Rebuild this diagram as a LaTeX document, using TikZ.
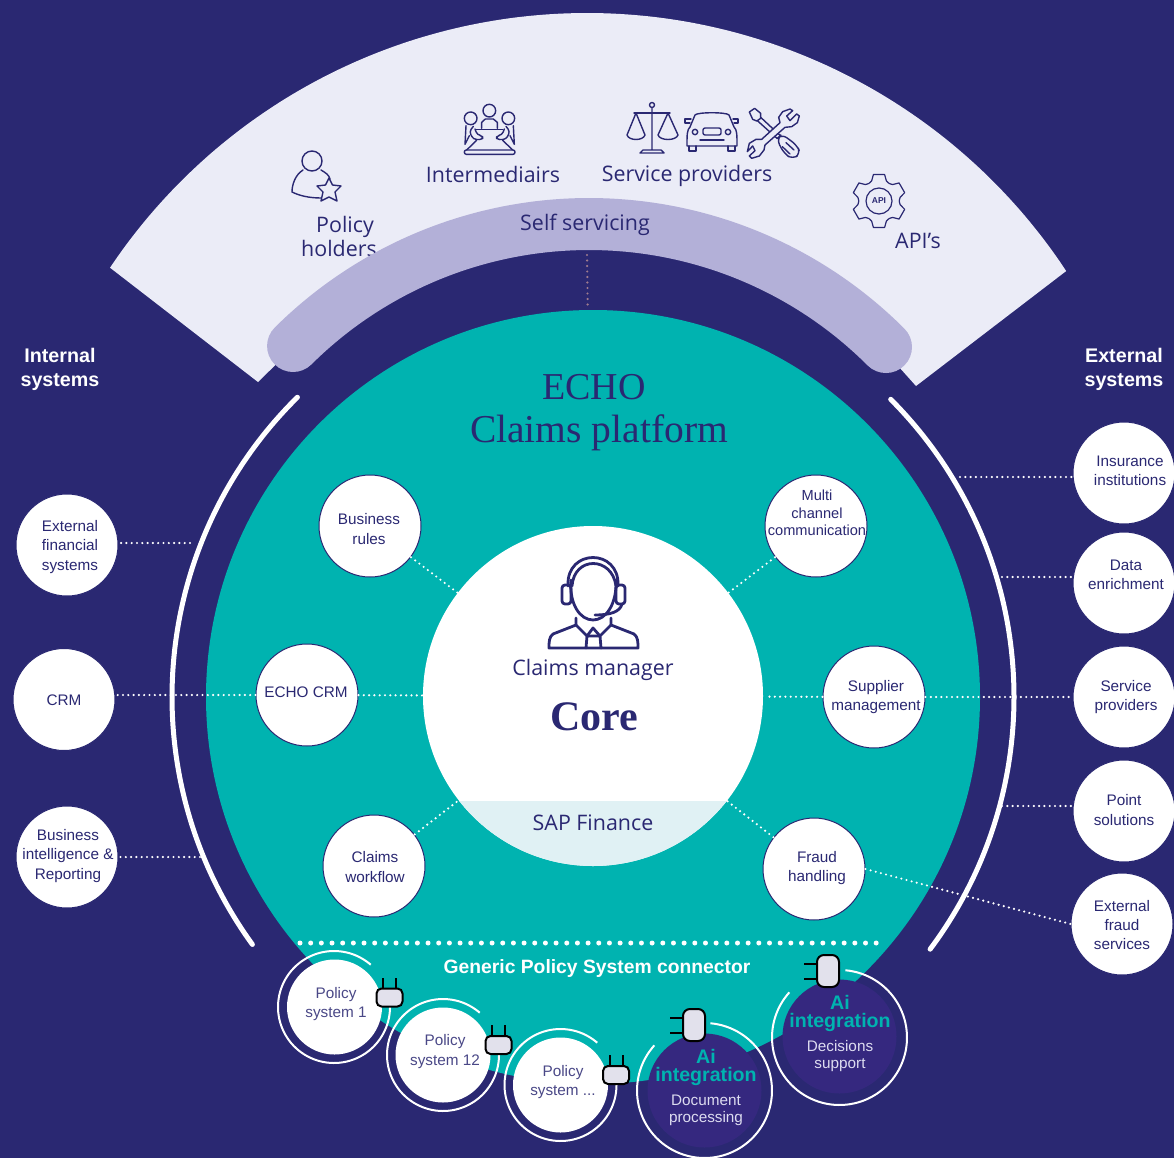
\documentclass[tikz,border=0pt]{standalone}
\usepackage{fontspec}
\setmainfont{Liberation Sans}
\newfontfamily\opsans{Open Sans}
\newfontfamily\srf{Liberation Serif}
\definecolor{navy}{HTML}{2A2872}
\definecolor{teal2}{HTML}{00B3B0}
\definecolor{fan}{HTML}{EBECF7}
\definecolor{bandc}{HTML}{B3B0D8}
\definecolor{sapc}{HTML}{E0F1F4}
\definecolor{aifill}{HTML}{35287F}
\definecolor{plugc}{HTML}{E2E1EC}
\definecolor{aitext}{HTML}{DDDCF0}
\definecolor{pinkdot}{HTML}{A07C8E}
\newcommand\arcat[5]{plot[domain=#4:#5,samples=90,smooth] ({#1+#2*cos(\x)},{#3+#2*sin(\x)})}
\tikzset{
  x=1pt,y=-1pt,
  bub/.style={circle,draw=navy,line width=1pt,fill=white,minimum size=102pt,inner sep=0pt},
  btext/.style={inner sep=0pt,align=center,text=navy,font=\fontsize{15.3}{19.4}\selectfont},
  polsys/.style={circle,fill=white,minimum size=95pt,inner sep=0pt},
  ptext/.style={inner sep=0pt,align=center,text=navy!85!white,font=\fontsize{15.3}{19.5}\selectfont},
  ainode/.style={circle,fill=aifill,minimum size=114pt,inner sep=0pt},
  dots/.style={white,line width=2.4pt,line cap=round,dash pattern=on 0pt off 5.3pt},
  ring/.style={white,line width=2pt},
  bigarc/.style={white,line width=5pt,line cap=round},
  plugbody/.style={draw=black,line width=2pt,fill=plugc,rounded corners=5pt,inner sep=0pt},
  hplug/.style={plugbody,minimum width=26pt,minimum height=18pt},
  vplug/.style={plugbody,rounded corners=7pt,minimum width=22pt,minimum height=32pt},
  prong/.style={black,line width=2pt},
  big/.style={text=navy,font=\opsans\fontsize{21.4}{24}\selectfont,inner sep=0pt,anchor=base},
  title/.style={text=navy,font=\srf\fontsize{38}{42}\selectfont,inner sep=0pt},
  side/.style={text=white,font=\bfseries\fontsize{19.7}{24}\selectfont,align=center,inner sep=0pt},
  ico/.style={draw=navy,line width=1.4pt,line join=round,line cap=round},
  aititle/.style={text=teal2,font=\bfseries\fontsize{19.6}{22}\selectfont,inner sep=0pt,align=center},
  aisub/.style={text=aitext,font=\fontsize{15.3}{17}\selectfont,inner sep=0pt,align=center},
  zoomed/.style={x=0.3333pt,y=-0.3333pt},
}
\begin{document}
\begin{tikzpicture}
\useasboundingbox (0,0) rectangle (1174,1158);
\fill[navy] (0,0) rectangle (1174,1158);
% fan
\fill[fan] plot[domain=213.8:326.6,samples=90,smooth] ({587+574*cos(\x)},{587+574*sin(\x)})
  -- (916,386) -- plot[domain=310:230,samples=90,smooth] ({589+420*cos(\x)},{644+420*sin(\x)}) -- (258,382) -- cycle;
% fan labels
\node[big] (lintm) at (493,183) {Intermediairs};
\node[big] (lserv) at (687,182) {Service providers};
\node[big] (lpol) at (345,233) {Policy};
\node[big] (lhold) at (339,256) {holders};
\node[big] (lapi) at (918,248) {API’s};
% band
\draw[bandc,line width=52pt,line cap=round] \arcat{589}{420}{644}{225.2}{315};
\node[big] (lself) at (585,231) {Self servicing};
% icons: person with star
\draw[ico] (312,161) circle (10);
\draw[ico] (303,170) .. controls (295,175) and (292,185) .. (292,192) .. controls (300,196) and (310,198) .. (321,198);
\draw[ico] (321,170) .. controls (326,173) and (329,175) .. (330,179);
\draw[ico,fill=fan] (329,178) -- (332.5,185) -- (341,186) -- (335,192) -- (337,201) -- (329,197) -- (321,201) -- (323,192) -- (317,186) -- (325.5,185) -- cycle;
% icons: table people
\begin{scope}[shift={(440,95)},zoomed]
\draw[ico] (148,47) circle (19) (92,70) circle (19) (205,70) circle (19);
\draw[ico] (125,100) -- (125,82) -- (136,72) -- (160,72) -- (172,82) -- (172,100);
\draw[ico] (108,103) -- (188,103);
\draw[ico] (110,136) -- (80,165) (188,136) -- (218,165);
\draw[ico,rounded corners=2pt] (73,165) rectangle (225,178);
\draw[ico] (78,92) -- (75,148) -- (88,122);
\draw[ico] (220,92) -- (223,148) -- (210,122);
\draw[ico,rounded corners=3pt] (100,94) -- (88,110) -- (100,133) -- (128,134) -- (128,122) -- (112,120) -- (105,102);
\draw[ico,rounded corners=3pt] (198,94) -- (210,110) -- (198,133) -- (170,134) -- (170,122) -- (186,120) -- (193,102);
\end{scope}
% scales
\draw[ico] (652,105) circle (2.5) (652,108) -- (652,150) (640,153) -- (643,150) -- (661,150) -- (664,153) -- cycle;
\draw[ico] (634,113) -- (670,113);
\draw[ico] (636,113) -- (627,135) .. controls (629,141) and (643,141) .. (645,135) -- cycle;
\draw[ico] (668,113) -- (658,135) .. controls (660,141) and (676,141) .. (678,135) -- cycle;
% car
\draw[ico] (690,127) -- (695,115) .. controls (697,112) and (727,112) .. (729,115) -- (734,127) .. controls (737,130) and (737,134) .. (737,146) -- (687,146) .. controls (687,134) and (687,130) .. (690,127) -- cycle;
\draw[ico] (689,146) -- (689,151) -- (696,151) -- (696,146) (728,146) -- (728,151) -- (735,151) -- (735,146);
\draw[ico] (690,123) -- (685,123) -- (685,119) -- (691,119) (734,123) -- (738,123) -- (738,119) -- (733,119);
\draw[ico] (695,132) circle (2.7) (728,132) circle (2.7);
\draw[ico,rounded corners=2pt] (703,128) rectangle (721,135);
\draw[ico] (700,140) -- (724,140);
% tools
\begin{scope}[shift={(740,100)},zoomed]
\draw[ico,fill=fan] (62,52) -- (122,108) -- (112,116) -- (52,62) -- cycle;
\draw[ico,fill=fan] (28,36) -- (44,25) -- (62,40) -- (62,55) -- (50,63) -- (38,58) -- cycle;
\draw[ico,fill=fan] (120,68) -- (116,52) -- (128,35) -- (150,27) -- (158,32) -- (140,48) -- (150,62) -- (170,42) -- (178,48) -- (172,68) -- (155,80) -- (135,82)
  -- (75,135) -- (72,150) -- (58,168) -- (35,175) -- (28,168) -- (45,152) -- (38,138) -- (22,155) -- (28,130) -- (48,118) -- (65,118) -- cycle;
\draw[ico,fill=fan,rounded corners=6pt] (110,118) -- (125,102) -- (170,135) -- (182,160) -- (158,178) -- (132,160) -- cycle;
\draw[ico] (138,128) -- (162,150) (127,140) -- (150,162);
\end{scope}
% gear
\begin{scope}[shift={(879,201)}]
\draw[ico,line width=1.2pt] (18:27) \foreach \a in {30,90,150,210,270,330} {
   -- (\a-12:27) -- (\a+12:27) -- (\a+20:21.5) .. controls (\a+30:20) .. (\a+40:21.5) } -- cycle;
\draw[ico,line width=1.2pt] (0,0) circle (13);
\node[text=navy,inner sep=0pt,font=\bfseries\fontsize{8.5}{9}\selectfont] (lapiicon) at (0,0) {API};
\end{scope}
% dotted link between band and platform
\coordinate (bandlow) at (587,255);
% teal circle
\node[circle,fill=teal2,minimum size=774pt,inner sep=0pt] (plat) at (593,697) {};
\draw[pinkdot,line width=2.4pt,line cap=round,dash pattern=on 0pt off 5.5pt] (bandlow) -- (plat);
\node[title] (echo) at (594,387) {ECHO};
\node[title,font=\srf\fontsize{39.5}{42}\selectfont] (cplat) at (599,433) {Claims platform};
% big white arcs
\draw[bigarc] \arcat{593}{421}{697}{225.4}{144};
\draw[bigarc] \arcat{593}{421}{697}{-45}{36.8};
% core
\node[circle,fill=white,minimum size=340pt,inner sep=0pt] (core) at (593,696) {};
\begin{scope}
\clip (593,696) circle (170);
\fill[sapc] (400,801) rectangle (800,880);
\end{scope}
\node[big] (lsap) at (593,830) {SAP Finance};
\node[big] (lcm) at (593,675) {Claims manager};
\node[text=navy,inner sep=0pt,font=\srf\bfseries\fontsize{42}{44}\selectfont] (lcore) at (594,717) {Core};
% headset person
\begin{scope}[navy,line width=2.8pt,line join=round,line cap=round]
\draw (568,586) .. controls (566,548) and (620,548) .. (618,586);
\draw (572,586) .. controls (574,556) and (612,556) .. (616,586);
\draw (571,580) .. controls (569,604) and (580,620) .. (593,620) .. controls (606,620) and (617,604) .. (616,580);
\draw[rounded corners=3pt] (562,585) rectangle (571,604) (616,585) rectangle (625,604);
\draw (622,604) .. controls (620,612) and (610,615) .. (595,615);
\draw (576,618) -- (576,625) -- (553,634) .. controls (549,637) and (549,642) .. (549,648) -- (638,648) .. controls (638,642) and (638,637) .. (634,634) -- (611,625) -- (611,618);
\draw (576,625) -- (587,636) -- (593,628) -- (600,636) -- (611,625);
\draw (587,636) -- (586,648) (600,636) -- (601,648) (587,636) -- (600,636);
\end{scope}
% inner module nodes
\node[bub] (br) at (370,526) {};
\node[btext] (tbr) at (369,529) {Business\\rules};
\node[bub] (mcc) at (816,526) {};
\node[btext,font=\fontsize{14.6}{17.4}\selectfont] (tmcc) at (817,513) {Multi\\channel\\communication};
\node[bub] (ecrm) at (307,695) {};
\node[btext] (tecrm) at (306,692) {ECHO CRM};
\node[bub] (sup) at (874,697) {};
\node[btext] (tsup) at (876,697) {Supplier\\management};
\node[bub] (cw) at (374,866) {};
\node[btext] (tcw) at (375,867) {Claims\\workflow};
\node[bub] (fh) at (814,869) {};
\node[btext] (tfh) at (817,868) {Fraud\\handling};
% outer nodes
\node[bub] (ins) at (1124,473) {};
\node[btext] (tins) at (1130,471) {Insurance\\institutions};
\node[bub] (den) at (1124,583) {};
\node[btext] (tden) at (1126,575) {Data\\enrichment};
\node[bub] (svc) at (1124,697) {};
\node[btext] (tsvc) at (1126,697) {Service\\providers};
\node[bub] (pts) at (1124,811) {};
\node[btext] (tpts) at (1124,810) {Point\\solutions};
\node[bub] (efs) at (1122,924) {};
\node[btext] (tefs) at (1122,925) {External\\fraud\\services};
\node[bub] (efi) at (67,545) {};
\node[btext] (tefi) at (70,547) {External\\financial\\systems};
\node[bub] (crm) at (64,699.5) {};
\node[btext] (tcrm) at (64,700) {CRM};
\node[bub] (bi) at (67,857) {};
\node[btext] (tbi) at (68,856) {Business\\intelligence \&\\Reporting};
% free ends
\coordinate (cins) at (960,477);
\coordinate (cden) at (1002,577);
\coordinate (cpts) at (1002,806);
\coordinate (cefi) at (190,543);
\coordinate (cbi) at (200,857);
% dotted connectors
\draw[dots] (br) -- (core);
\draw[dots] (mcc) -- (core);
\draw[dots] (ecrm) -- (core);
\draw[dots,shorten >=4pt] (sup) -- (core);
\draw[dots] (cw) -- (core);
\draw[dots] (fh) -- (core);
\draw[dots] (sup) -- (svc);
\draw[dots] (ecrm) -- (ecrm -| crm.east);
\draw[dots] (fh.east) -- (efs.west);
\draw[dots] (cins) -- (cins -| ins.west);
\draw[dots] (cden) -- (cden -| den.west);
\draw[dots] (cpts) -- (cpts -| pts.west);
\draw[dots] (cefi) -- (cefi -| efi.east);
\draw[dots] (cbi) -- (cbi -| bi.east);
% side titles
\node[side] (lint) at (60,369) {Internal\\systems};
\node[side] (lext) at (1124,369) {External\\systems};
% connector bar
\coordinate (barl) at (300,943);
\coordinate (barr) at (882,943);
\draw[white,line width=5pt,line cap=round,dash pattern=on 0pt off 10.67pt] (barl) -- (barr);
\node[text=white,inner sep=0pt,font=\bfseries\fontsize{19.3}{22}\selectfont] (lgps) at (597,968) {Generic Policy System connector};
% policy systems
\draw[ring] \arcat{334}{56}{1007}{0}{311};
\draw[ring] \arcat{443}{56}{1055}{0}{311};
\draw[ring] \arcat{560.5}{56}{1085}{0}{311};
\node[polsys] (ps1) at (334.5,1007) {};
\node[ptext] (tps1) at (336,1004) {Policy\\system 1};
\node[polsys] (ps2) at (443,1055) {};
\node[ptext] (tps2) at (445,1051.5) {Policy\\system 12};
\node[polsys] (ps3) at (560.5,1085) {};
\node[ptext] (tps3) at (563,1082) {Policy\\system ...};
\node[hplug] (pl1) at (389.5,997.5) {};
\node[hplug] (pl2) at (498.5,1045) {};
\node[hplug] (pl3) at (616,1075) {};
\foreach \n in {pl1,pl2,pl3} {
  \draw[prong] ([xshift=-6.5pt]\n.north) -- ++(0,-10);
  \draw[prong] ([xshift=6.5pt]\n.north) -- ++(0,-10);
}
% AI nodes
\node[ainode] (ai1) at (704.5,1090.5) {};
\node[ainode] (ai2) at (839.5,1036.5) {};
\draw[ring] \arcat{704.5}{67.5}{1090.5}{-85}{222};
\draw[ring] \arcat{839.5}{67.5}{1037.5}{-85}{222};
\node[aititle] (t1a) at (706,1056) {Ai};
\node[aititle] (t1b) at (706,1076) {integration};
\node[aisub] (s1) at (706,1110) {Document\\processing};
\node[aititle] (t2a) at (840,1002) {Ai};
\node[aititle] (t2b) at (840,1022) {integration};
\node[aisub] (s2) at (840,1056) {Decisions\\support};
\node[vplug] (pl4) at (694,1025) {};
\node[vplug] (pl5) at (828,971) {};
\foreach \n in {pl4,pl5} {
  \draw[prong] ([yshift=-7.5pt]\n.west) -- ++(-12,0);
  \draw[prong] ([yshift=7.5pt]\n.west) -- ++(-12,0);
}
\end{tikzpicture}
\end{document}
